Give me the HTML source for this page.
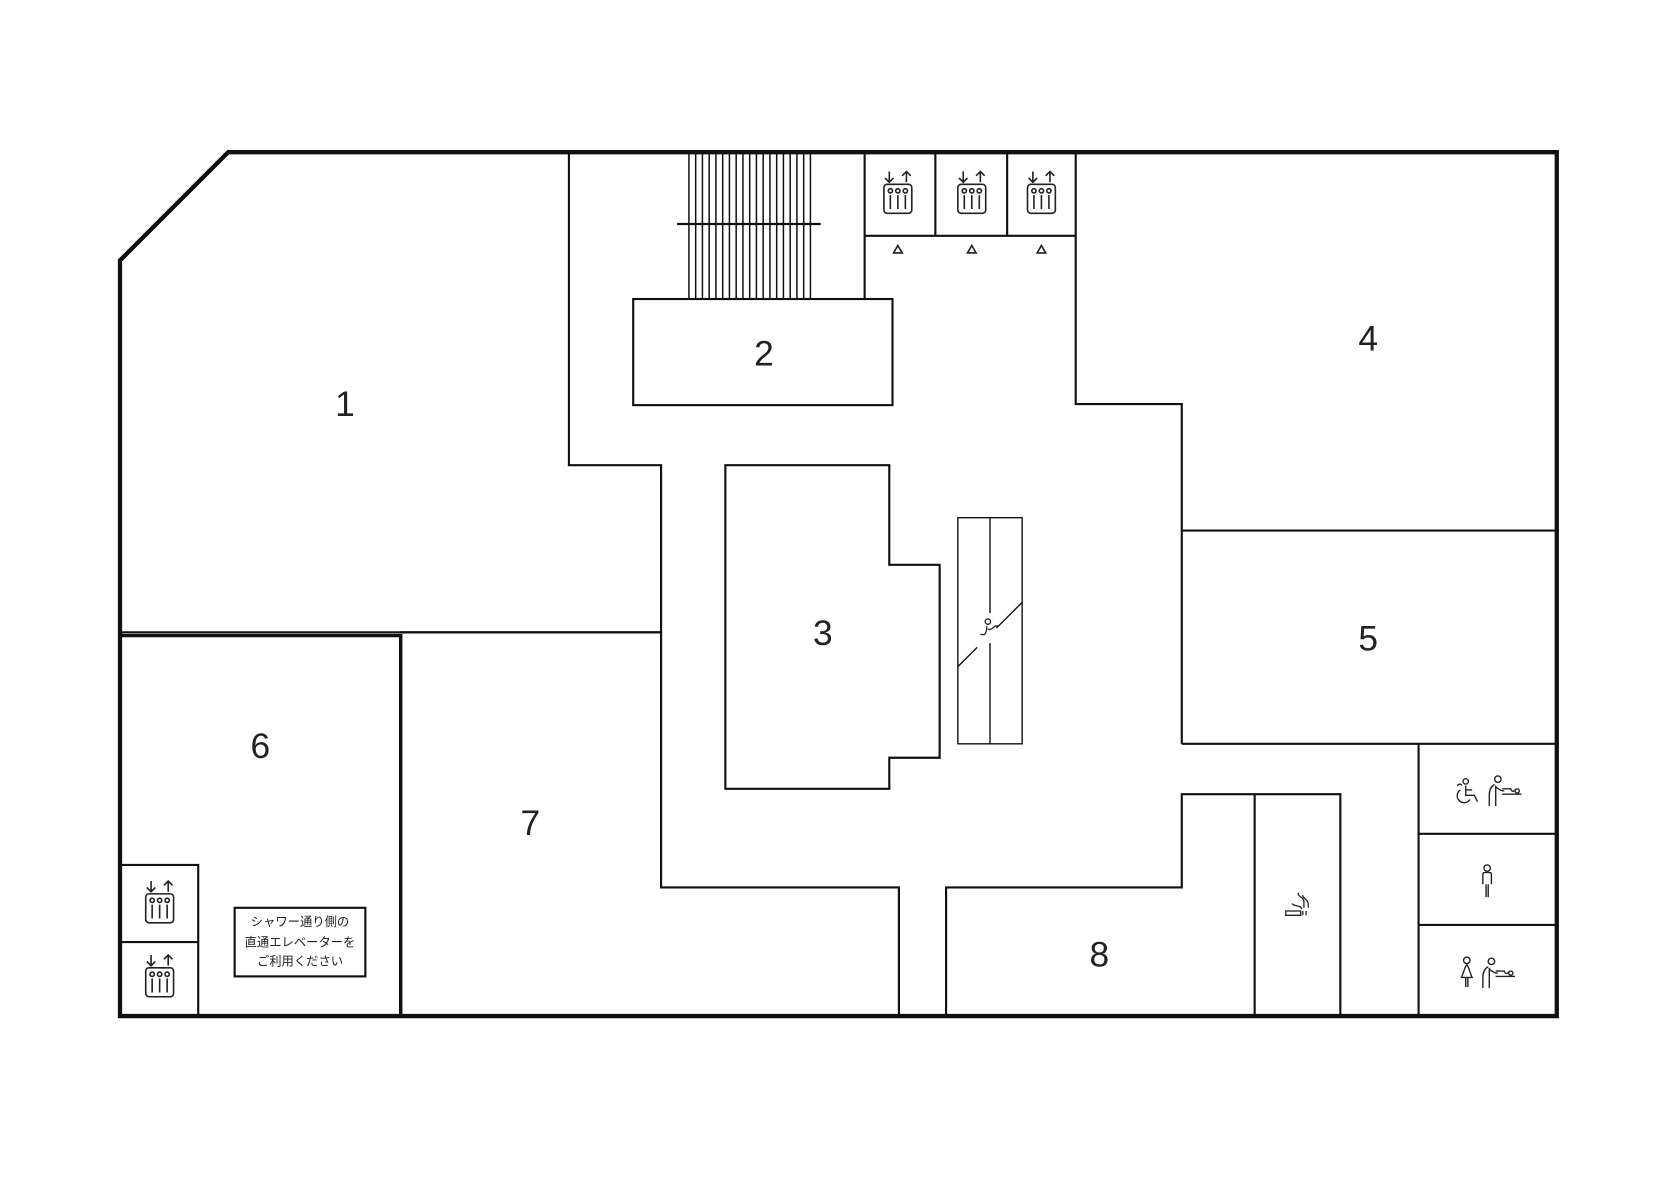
<!DOCTYPE html>
<html><head><meta charset="utf-8"><style>
html,body{margin:0;padding:0;background:#fff;}
svg{display:block;}
text{font-family:"Liberation Sans","Noto Sans CJK JP",sans-serif;fill:#222;}
</style></head><body>
<svg width="1680" height="1187" viewBox="0 0 1568 1107.5" preserveAspectRatio="none" xmlns="http://www.w3.org/2000/svg">
<defs>
<g id="elev" fill="none" stroke="#222" stroke-width="1.5">
 <path d="M-8,-24v10M-12,-18l4,4l4,-4M8,-14v-10M4,-20l4,-4l4,4"/>
 <rect x="-13" y="-12" width="26" height="27" rx="3"/>
 <circle cx="-7" cy="-6" r="2"/><circle cx="0" cy="-6" r="2"/><circle cx="7" cy="-6" r="2"/>
 <path d="M-7,-2v13M0,-2v13M7,-2v13"/>
</g>
<g id="baby" fill="none" stroke="#222" stroke-width="1.3">
 <circle cx="0" cy="-11" r="3"/>
 <path d="M-3,-6c-4,2 -5,6 -5,10v10M-2,-5v19M-2,-4c3,3 5,4 8,4"/>
 <path d="M4,-2h8c1,3 3,3 5,0M4,3h18M18,-2a2,2 0 1,0 .1,0"/>
</g>
</defs>
<g fill="none" stroke="#111" stroke-width="2">
 <g stroke-width="1.4">
  <path d="M643,142V279M649.3,142V279M655.6,142V279M661.9,142V279M668.2,142V279M674.5,142V279M680.8,142V279M687.1,142V279M693.4,142V279M699.7,142V279M706,142V279M712.3,142V279M718.6,142V279M724.9,142V279M731.2,142V279M737.5,142V279M743.8,142V279M750.1,142V279M756.4,142V279"/>
 </g>
 <path d="M632,209H766"/>
 <path d="M531,142V434H617V590H112"/>
 <path d="M112,593H374V948" stroke-width="3.2"/>
 <path d="M374,590H617V828H839V948"/>
 <path d="M883,948V828H1103V741H1251V948M1171,741V948"/>
 <path d="M1324,948V694M1103,694H1453M1324,778H1453M1324,863H1453"/>
 <path d="M1004,142V377H1103V694M1103,495H1453"/>
 <path d="M807,142V279M807,220H1004M873,142V220M940,142V220"/>
 <rect x="591" y="279" width="242" height="99"/>
 <path d="M677,434H830V527H877V707H830V736H677Z"/>
 <rect x="894" y="483" width="60" height="211" stroke-width="1.3"/>
 <path d="M924,483V572M924,600V694M894,622L912,604M930,586L954,562" stroke-width="1.3"/>
 <path d="M112,807H185V948M112,879H185"/>
 <rect x="219" y="847" width="122" height="64"/>
 <path d="M213,142H1453V948H112V243Z" stroke-width="4"/>
</g>
<g fill="none" stroke="#222" stroke-width="1.2">
 <circle cx="922" cy="580" r="2.5"/>
 <path d="M921,584c0,4 -1,7 -2,8h-4M922,587c2,1 4,0 7,-3h3"/>
</g>
<g fill="none" stroke="#222" stroke-width="1.5">
 <path d="M838,229l-4,7h8Z"/><path d="M907,229l-4,7h8Z"/><path d="M972,229l-4,7h8Z"/>
</g>
<use href="#elev" x="838" y="184"/>
<use href="#elev" x="907" y="184"/>
<use href="#elev" x="972" y="184"/>
<use href="#elev" x="149" y="846"/>
<use href="#elev" x="149" y="915"/>
<g fill="none" stroke="#222" stroke-width="1.2">
 <path d="M1200,850h14v4h-14zM1216,850v4M1219,850v4M1206,843c1,3 8,1 9,5M1212,833c-2,3 5,4 5,8v6M1216,835c-1,3 5,4 5,8v4"/>
</g>
<g fill="none" stroke="#222" stroke-width="1.3">
 <circle cx="1368" cy="729" r="2.5"/>
 <path d="M1368,733v9h8l3,6M1368,737h6M1363,737a6.5,6.5 0 1,0 9,9M1360,733c2,-2 4,-2 4,0"/>
 <circle cx="1388" cy="810" r="3"/>
 <path d="M1384,825v-9c0,-2 1,-2 4,-2s4,0 4,2v9M1387,825v12M1389,825v12"/>
 <circle cx="1369" cy="896" r="3"/>
 <path d="M1369,900c-2,2 -3,8 -5,12h10c-2,-4 -3,-10 -5,-12M1368,912v9M1370,912v9"/>
</g>
<use href="#baby" x="1398" y="738"/>
<use href="#baby" x="1392" y="908"/>
<g font-size="33" text-anchor="middle">
 <text x="322" y="388">1</text>
 <text x="713" y="341">2</text>
 <text x="768" y="602">3</text>
 <text x="1277" y="327">4</text>
 <text x="1277" y="607">5</text>
 <text x="243" y="707">6</text>
 <text x="495" y="779">7</text>
 <text x="1026" y="902">8</text>
</g>
<g font-size="11.5" text-anchor="middle">
 <text x="280" y="864">シャワー通り側の</text>
 <text x="280" y="883">直通エレベーターを</text>
 <text x="280" y="901">ご利用ください</text>
</g>
</svg>
</body></html>
